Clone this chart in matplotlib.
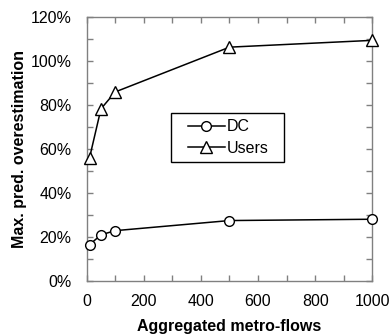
import matplotlib
matplotlib.use("Agg")
import matplotlib.pyplot as plt
from matplotlib.patches import Rectangle
from matplotlib.ticker import MultipleLocator, FuncFormatter

plt.rcParams['font.family'] = ['Liberation Sans', 'DejaVu Sans']

# data
flows = [10, 50, 100, 500, 1000]
dc = [16.4, 20.9, 22.8, 27.4, 28.0]
users = [56.0, 78.3, 86.0, 106.4, 109.5]

x_ticks = [0, 200, 400, 600, 800, 1000]
y_ticks = [0, 20, 40, 60, 80, 100, 120]

fig = plt.figure(figsize=(3.91, 3.36), dpi=100)
ax = fig.add_axes([0.2217, 0.1646, 0.7305, 0.7839])

ax.plot(flows, dc, color='black', lw=1.1, marker='o', ms=7,
        mfc='white', mec='black', mew=1.0, label='DC', clip_on=False, zorder=3)
ax.plot(flows, users, color='black', lw=1.1, marker='^', ms=8,
        mfc='white', mec='black', mew=1.0, label='Users', clip_on=False, zorder=3)

ax.set_xlim(0, 1000)
ax.set_ylim(0, 120)
ax.set_xticks(x_ticks)
ax.set_yticks(y_ticks)
ax.xaxis.set_minor_locator(MultipleLocator(100))
ax.yaxis.set_minor_locator(MultipleLocator(10))
ax.yaxis.set_major_formatter(FuncFormatter(lambda v, p: f"{v:.0f}%"))

for s in ax.spines.values():
    s.set_color('#808080')
    s.set_linewidth(1.0)
ax.tick_params(which='both', direction='in', top=True, right=True,
               length=4, width=1.0, color='#808080', labelsize=11.5)
ax.tick_params(axis='x', which='both', pad=9.5)
ax.tick_params(axis='y', which='both', pad=10.8)

ax.set_xlabel('Aggregated metro-flows', fontsize=11.5, fontweight='bold', labelpad=7)
ax.set_ylabel('Max. pred. overestimation', fontsize=11.5, fontweight='bold', labelpad=2.5)

# legend entries without frame, box drawn separately (wider side padding)
leg = ax.legend(loc='center left', bbox_to_anchor=(0.353, 0.5436), fontsize=11.5,
                frameon=False, handlelength=2.35, handletextpad=0.12,
                borderpad=0, labelspacing=0.4, borderaxespad=0)
ax.add_patch(Rectangle((0.296, 0.452), 0.396, 0.183, transform=ax.transAxes,
                       fill=False, edgecolor='black', lw=1.0, zorder=4))

fig.savefig('out.png', dpi=100)
